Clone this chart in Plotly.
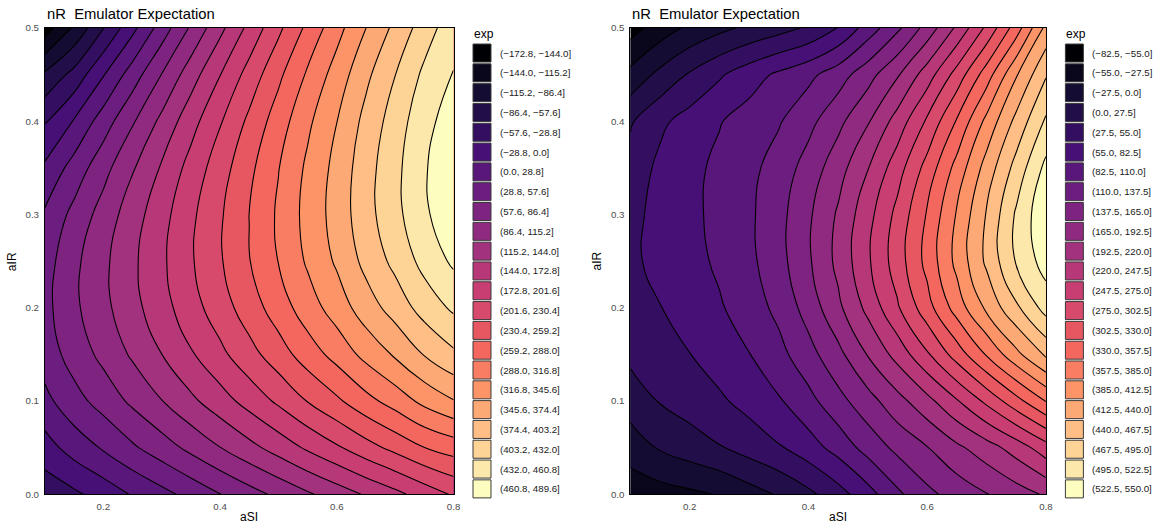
import plotly.graph_objects as go
from plotly.colors import sample_colorscale, sequential

# ---- design inputs ---------------------------------------------------------
a_si = [0.10, 0.15, 0.20, 0.25, 0.30, 0.35, 0.40, 0.45,
        0.50, 0.55, 0.60, 0.65, 0.70, 0.75, 0.80]
a_ir = [0.00, 0.05, 0.10, 0.15, 0.20, 0.25, 0.30, 0.35, 0.40, 0.45, 0.50]

# emulator expectation of nR, one row per aIR value (left panel)
exp_left = [
    [-47.0, -34.2, -17.0, 2.5, 20.0, 38.1, 57.0, 75.1, 93.0, 111.2, 129.0, 147.1, 165.0, 185.3, 205.0],
    [-12.0, 12.5, 32.0, 53.3, 73.1, 93.9, 114.6, 135.3, 155.9, 177.4, 197.7, 219.1, 238.8, 259.0, 272.0],
    [21.0, 47.2, 69.1, 92.2, 114.3, 137.8, 160.4, 183.7, 206.9, 231.5, 254.1, 278.6, 300.3, 324.8, 344.0],
    [42.0, 70.0, 94.2, 119.4, 143.8, 169.8, 194.5, 220.3, 246.0, 273.4, 298.3, 325.7, 349.5, 376.0, 398.0],
    [49.0, 80.7, 107.3, 134.7, 161.5, 190.0, 216.8, 245.1, 273.3, 303.2, 330.2, 360.5, 386.5, 414.9, 437.0],
    [45.0, 79.5, 108.6, 138.3, 167.4, 198.3, 227.4, 258.1, 288.7, 320.8, 349.8, 382.8, 411.0, 441.4, 466.0],
    [33.0, 66.0, 98.2, 130.7, 162.4, 195.5, 226.7, 259.5, 292.3, 326.3, 357.1, 392.7, 423.4, 455.6, 482.0],
    [5.0, 40.3, 76.3, 112.3, 147.3, 183.3, 217.2, 252.2, 286.9, 322.3, 354.5, 391.6, 424.0, 457.8, 484.0],
    [-31.0, 2.3, 42.9, 83.0, 122.3, 161.7, 198.9, 236.6, 273.7, 310.9, 345.2, 383.2, 416.9, 451.6, 475.0],
    [-82.0, -48.0, -2.0, 42.9, 87.1, 130.8, 172.0, 212.8, 252.7, 292.2, 329.2, 367.8, 402.8, 438.2, 462.0],
    [-158.0, -110.5, -58.5, -8.0, 42.0, 90.4, 136.3, 180.8, 224.0, 266.1, 306.6, 345.5, 381.6, 417.6, 450.0],
]

# emulator expectation of nR, one row per aIR value (right panel)
exp_right = [
    [-45.0, -38.9, -32.9, -25.8, -11.8, 2.9, 21.0, 44.1, 71.8, 104.4, 130.6, 148.5, 163.8, 179.7, 196.0],
    [-14.6, 2.7, 14.0, 25.5, 38.7, 52.2, 70.3, 92.8, 120.5, 144.6, 163.8, 186.8, 207.8, 232.3, 263.1],
    [12.5, 29.2, 39.9, 50.6, 64.2, 79.6, 101.3, 128.5, 154.1, 182.6, 211.3, 245.0, 281.5, 320.2, 358.7],
    [34.0, 44.3, 54.5, 68.0, 81.7, 101.4, 127.6, 157.1, 194.2, 230.2, 271.5, 315.0, 360.1, 404.9, 445.7],
    [46.0, 54.3, 66.7, 79.5, 96.2, 117.1, 148.7, 186.4, 227.6, 271.7, 319.0, 369.9, 418.2, 462.6, 505.7],
    [51.0, 60.8, 73.4, 87.2, 103.4, 127.6, 161.0, 199.8, 243.2, 288.8, 338.7, 393.0, 445.3, 497.5, 535.0],
    [48.0, 62.7, 75.9, 90.0, 104.9, 128.4, 160.3, 196.2, 237.8, 283.1, 332.8, 387.9, 442.2, 498.8, 545.0],
    [38.0, 61.3, 74.9, 88.7, 102.5, 121.4, 148.7, 180.9, 218.8, 263.0, 312.7, 367.4, 423.7, 477.5, 530.0],
    [24.3, 49.1, 66.0, 80.8, 94.3, 107.5, 129.1, 157.4, 189.8, 231.4, 279.4, 332.7, 392.5, 447.8, 499.3],
    [-19.4, 7.3, 30.5, 51.4, 70.2, 87.5, 103.0, 124.3, 154.1, 189.4, 233.7, 286.0, 343.8, 409.9, 465.0],
    [-66.0, -42.0, -21.6, -7.2, 5.9, 17.5, 31.1, 56.1, 94.9, 131.5, 176.0, 225.1, 280.8, 343.8, 420.0],
]

# bin edges used for the filled bands / legend entries
breaks_left = [-172.8, -144.0, -115.2, -86.4, -57.6, -28.8, 0.0, 28.8, 57.6,
               86.4, 115.2, 144.0, 172.8, 201.6, 230.4, 259.2, 288.0, 316.8,
               345.6, 374.4, 403.2, 432.0, 460.8, 489.6]
breaks_right = [-82.5, -55.0, -27.5, 0.0, 27.5, 55.0, 82.5, 110.0, 137.5,
                165.0, 192.5, 220.0, 247.5, 275.0, 302.5, 330.0, 357.5, 385.0,
                412.5, 440.0, 467.5, 495.0, 522.5, 550.0]

x_ticks = [0.2, 0.4, 0.6, 0.8]
y_ticks = [0.0, 0.1, 0.2, 0.3, 0.4, 0.5]
title_text = "nR\u00a0\u00a0Emulator Expectation"

W, H = 1161, 525
FONT = "Liberation Sans, Arial, sans-serif"
MAGMA = sequential.Magma

# page-to-layout pixel mapping
SX, SY, OY = 0.995, 0.9785, 6.3


def px(x):
    return (x / SX) / W


def py(y):
    return 1 - ((y - OY) / SY) / H


def fmt(v):
    return f"{v:.1f}".replace("-", "\u2212")


fig = go.Figure()

panels = [
    dict(z=exp_left, br=breaks_left, xa="x", ya="y", left=45, right=454,
         leg_x=473.5, lab_x=499),
    dict(z=exp_right, br=breaks_right, xa="x2", ya="y2", left=631, right=1047,
         leg_x=1066.5, lab_x=1091.5),
]

top, bottom = 28.3, 494.3
shapes, annotations = [], []

for p in panels:
    br = p["br"]
    step = br[1] - br[0]
    fig.add_trace(go.Contour(
        x=a_si, y=a_ir, z=p["z"],
        autocontour=False,
        contours=dict(start=br[1], end=br[-2] + step * 0.01, size=step,
                      coloring="fill", showlines=True),
        line=dict(color="black", width=1.1, smoothing=1.3),
        colorscale=MAGMA, showscale=False,
        xaxis=p["xa"], yaxis=p["ya"], hoverinfo="skip",
    ))

    # panel title
    annotations.append(dict(
        text=title_text, x=px(p["left"]), y=py(14), xref="paper", yref="paper",
        xanchor="left", yanchor="middle", showarrow=False,
        font=dict(family=FONT, size=14.8, color="black")))
    # axis titles
    annotations.append(dict(
        text="aSI", x=px((p["left"] + p["right"]) / 2), y=py(517.5),
        xref="paper", yref="paper", xanchor="center", yanchor="middle",
        showarrow=False, font=dict(family=FONT, size=12, color="black")))
    annotations.append(dict(
        text="aIR", x=px(p["left"] - 33), y=py((top + bottom) / 2),
        xref="paper", yref="paper", xanchor="center", yanchor="middle",
        textangle=-90, showarrow=False,
        font=dict(family=FONT, size=12, color="black")))

    # discrete legend
    n = len(br) - 1
    colors = sample_colorscale(MAGMA, [i / (n - 1) for i in range(n)])
    annotations.append(dict(
        text="exp", x=px(p["leg_x"] - 1), y=py(34), xref="paper", yref="paper",
        xanchor="left", yanchor="middle", showarrow=False,
        font=dict(family=FONT, size=12, color="black")))
    pitch, sw = 19.8, 18.0
    for i in range(n):
        cy = 53.3 + pitch * i
        shapes.append(dict(
            type="rect", xref="paper", yref="paper",
            x0=px(p["leg_x"]), x1=px(p["leg_x"] + sw),
            y0=py(cy - sw / 2), y1=py(cy + sw / 2),
            fillcolor=colors[i], line=dict(color="#3a3a3a", width=1)))
        annotations.append(dict(
            text=f"({fmt(br[i])}, {fmt(br[i + 1])}]",
            x=px(p["lab_x"]), y=py(cy), xref="paper", yref="paper",
            xanchor="left", yanchor="middle", showarrow=False,
            font=dict(family=FONT, size=9.7, color="#1a1a1a")))

axis_common = dict(
    showgrid=False, zeroline=False, showline=True, mirror=True,
    linecolor="black", linewidth=1, ticks="outside", ticklen=3,
    tickcolor="rgba(0,0,0,0)",
    tickfont=dict(family=FONT, size=9.7, color="#4d4d4d"),
    tickformat=".1f",
)

ydom = [py(bottom), py(top)]
fig.update_layout(
    width=W, height=H,
    margin=dict(l=0, r=0, t=0, b=0),
    paper_bgcolor="white", plot_bgcolor="white",
    showlegend=False,
    xaxis=dict(domain=[px(45), px(454)], range=[0.1, 0.8], tickvals=x_ticks,
               anchor="y", **axis_common),
    yaxis=dict(domain=ydom, range=[0, 0.5], tickvals=y_ticks, anchor="x",
               **axis_common),
    xaxis2=dict(domain=[px(631), px(1047)], range=[0.1, 0.8],
                tickvals=x_ticks, anchor="y2", **axis_common),
    yaxis2=dict(domain=ydom, range=[0, 0.5], tickvals=y_ticks, anchor="x2",
                **axis_common),
    shapes=shapes,
    annotations=annotations,
)

fig.write_html("out.html")
